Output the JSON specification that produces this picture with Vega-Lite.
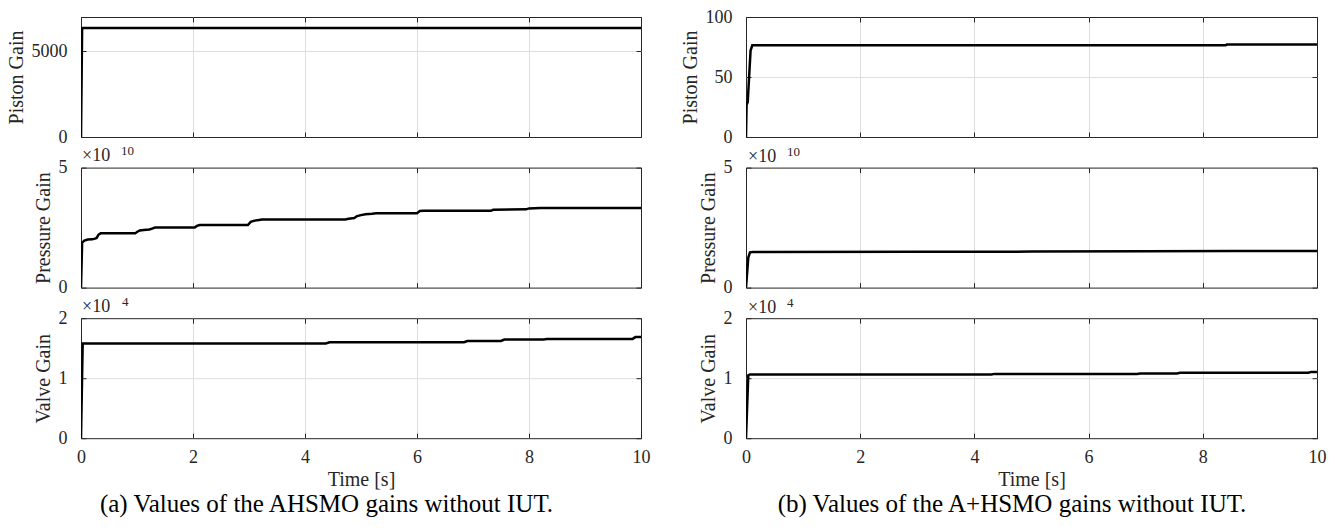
{
  "$schema": "https://vega.github.io/schema/vega-lite/v6.json",
  "padding": {"left": 5, "top": 7, "right": 5, "bottom": 3},
  "background": "white",
  "config": {
    "font": "'Liberation Serif', 'Times New Roman', serif",
    "view": {"stroke": "#262626", "strokeWidth": 1},
    "text": {"font": "'Liberation Serif', 'Times New Roman', serif"},
    "axis": {
      "labelFont": "'Liberation Serif', 'Times New Roman', serif", "labelFontSize": 18, "labelColor": "#262626",
      "titleFont": "'Liberation Serif', 'Times New Roman', serif", "titleFontSize": 20, "titleFontWeight": "normal", "titleColor": "#262626",
      "gridColor": "#dedede", "gridWidth": 1, "format": "d",
      "tickColor": "#262626", "tickSize": -5, "tickWidth": 1,
      "domain": false, "labelFlush": false, "labelOverlap": false
    },
    "axisX": {"labelPadding": 15, "titlePadding": 3},
    "axisY": {"labelPadding": 19, "titlePadding": 5},
    "title": {"font": "'Liberation Serif', 'Times New Roman', serif", "fontSize": 25, "fontWeight": "normal", "color": "black", "orient": "bottom", "anchor": "middle", "frame": "bounds", "offset": 3}
  },
  "datasets": {
    "lp": [{"t": 0, "v": 0}, {"t": 0.02, "v": 6360}, {"t": 10, "v": 6360}],
    "lpr": [
      {"t": 0, "v": 0}, {"t": 0.02, "v": 1.87}, {"t": 0.06, "v": 1.96}, {"t": 0.12, "v": 2.0}, {"t": 0.2, "v": 2.01},
      {"t": 0.25, "v": 2.04}, {"t": 0.28, "v": 2.07}, {"t": 0.31, "v": 2.2}, {"t": 0.35, "v": 2.26}, {"t": 0.97, "v": 2.26},
      {"t": 1.0, "v": 2.32}, {"t": 1.05, "v": 2.38}, {"t": 1.12, "v": 2.4}, {"t": 1.22, "v": 2.42}, {"t": 1.27, "v": 2.46},
      {"t": 1.32, "v": 2.5}, {"t": 2.03, "v": 2.5}, {"t": 2.07, "v": 2.57}, {"t": 2.12, "v": 2.61}, {"t": 2.98, "v": 2.61},
      {"t": 3.03, "v": 2.74}, {"t": 3.1, "v": 2.79}, {"t": 3.18, "v": 2.82}, {"t": 3.23, "v": 2.84}, {"t": 4.72, "v": 2.84},
      {"t": 4.78, "v": 2.87}, {"t": 4.88, "v": 2.9}, {"t": 4.93, "v": 2.98}, {"t": 5.0, "v": 3.02}, {"t": 5.08, "v": 3.06},
      {"t": 5.2, "v": 3.08}, {"t": 5.27, "v": 3.1}, {"t": 6.0, "v": 3.1}, {"t": 6.05, "v": 3.19}, {"t": 6.12, "v": 3.2},
      {"t": 7.32, "v": 3.2}, {"t": 7.36, "v": 3.24}, {"t": 7.95, "v": 3.26}, {"t": 8.0, "v": 3.3}, {"t": 8.1, "v": 3.31},
      {"t": 8.2, "v": 3.32}, {"t": 10, "v": 3.32}
    ],
    "lv": [
      {"t": 0, "v": 0}, {"t": 0.03, "v": 1.58}, {"t": 4.37, "v": 1.58}, {"t": 4.44, "v": 1.6}, {"t": 6.84, "v": 1.6},
      {"t": 6.9, "v": 1.62}, {"t": 7.5, "v": 1.62}, {"t": 7.56, "v": 1.645}, {"t": 8.26, "v": 1.645}, {"t": 8.32, "v": 1.655},
      {"t": 9.85, "v": 1.655}, {"t": 9.9, "v": 1.685}, {"t": 10, "v": 1.685}
    ],
    "rp": [
      {"t": 0, "v": 0}, {"t": 0.01, "v": 27}, {"t": 0.03, "v": 29}, {"t": 0.08, "v": 72}, {"t": 0.11, "v": 76.4},
      {"t": 8.4, "v": 76.4}, {"t": 8.42, "v": 77}, {"t": 10, "v": 77}
    ],
    "rpr": [
      {"t": 0, "v": 0}, {"t": 0.04, "v": 1.25}, {"t": 0.07, "v": 1.47}, {"t": 0.12, "v": 1.48}, {"t": 3, "v": 1.49},
      {"t": 5, "v": 1.5}, {"t": 7, "v": 1.51}, {"t": 8.5, "v": 1.52}, {"t": 10, "v": 1.53}
    ],
    "rv": [
      {"t": 0, "v": 0}, {"t": 0.04, "v": 1.05}, {"t": 0.07, "v": 1.063}, {"t": 4.3, "v": 1.063}, {"t": 4.35, "v": 1.072},
      {"t": 6.85, "v": 1.072}, {"t": 6.9, "v": 1.08}, {"t": 7.55, "v": 1.08}, {"t": 7.6, "v": 1.09}, {"t": 9.85, "v": 1.09},
      {"t": 9.9, "v": 1.105}, {"t": 10, "v": 1.105}
    ]
  },
  "columns": 2,
  "bounds": "flush",
  "spacing": {"row": 30.6, "column": 105},
  "concat": [
    {
      "width": 560, "height": 120,
      "layer": [
        {"data": {"name": "lp"}, "mark": {"type": "line", "color": "black", "strokeWidth": 2.5, "clip": true},
         "encoding": {
           "x": {"field": "t", "type": "quantitative", "scale": {"domain": [0, 10], "nice": false, "zero": false},
                 "axis": {"orient": "bottom", "values": [0, 2, 4, 6, 8, 10], "labels": false, "title": null,
                          "gridOpacity": {"condition": {"test": "datum.value <= 0 || datum.value >= 10", "value": 0}, "value": 1}}},
           "y": {"field": "v", "type": "quantitative", "scale": {"domain": [0, 7000], "nice": false},
                 "axis": {"orient": "left", "values": [0, 5000], "title": "Piston Gain",
                          "gridOpacity": {"condition": {"test": "datum.value <= 0 || datum.value >= 7000", "value": 0}, "value": 1}}}
         }},
        {"data": {"values": [{}]}, "mark": {"type": "point", "opacity": 0},
         "encoding": {
           "x": {"datum": 0, "type": "quantitative", "axis": {"orient": "top", "values": [0, 2, 4, 6, 8, 10], "labels": false, "grid": false, "title": null}},
           "y": {"datum": 0, "type": "quantitative", "axis": {"orient": "right", "values": [0, 5000], "labels": false, "grid": false, "title": null}}
         }}
      ],
      "resolve": {"axis": {"x": "independent", "y": "independent"}}
    },
    {
      "width": 571, "height": 120,
      "layer": [
        {"data": {"name": "rp"}, "mark": {"type": "line", "color": "black", "strokeWidth": 2.5, "clip": true},
         "encoding": {
           "x": {"field": "t", "type": "quantitative", "scale": {"domain": [0, 10], "nice": false, "zero": false},
                 "axis": {"orient": "bottom", "values": [0, 2, 4, 6, 8, 10], "labels": false, "title": null,
                          "gridOpacity": {"condition": {"test": "datum.value <= 0 || datum.value >= 10", "value": 0}, "value": 1}}},
           "y": {"field": "v", "type": "quantitative", "scale": {"domain": [0, 100], "nice": false},
                 "axis": {"orient": "left", "values": [0, 50, 100], "title": "Piston Gain",
                          "gridOpacity": {"condition": {"test": "datum.value <= 0 || datum.value >= 100", "value": 0}, "value": 1}}}
         }},
        {"data": {"values": [{}]}, "mark": {"type": "point", "opacity": 0},
         "encoding": {
           "x": {"datum": 0, "type": "quantitative", "axis": {"orient": "top", "values": [0, 2, 4, 6, 8, 10], "labels": false, "grid": false, "title": null}},
           "y": {"datum": 0, "type": "quantitative", "axis": {"orient": "right", "values": [0, 50, 100], "labels": false, "grid": false, "title": null}}
         }}
      ],
      "resolve": {"axis": {"x": "independent", "y": "independent"}}
    },
    {
      "width": 560, "height": 120,
      "layer": [
        {"data": {"name": "lpr"}, "mark": {"type": "line", "color": "black", "strokeWidth": 2.5, "clip": true},
         "encoding": {
           "x": {"field": "t", "type": "quantitative", "scale": {"domain": [0, 10], "nice": false, "zero": false},
                 "axis": {"orient": "bottom", "values": [0, 2, 4, 6, 8, 10], "labels": false, "title": null,
                          "gridOpacity": {"condition": {"test": "datum.value <= 0 || datum.value >= 10", "value": 0}, "value": 1}}},
           "y": {"field": "v", "type": "quantitative", "scale": {"domain": [0, 5], "nice": false},
                 "axis": {"orient": "left", "values": [0, 5], "title": "Pressure Gain",
                          "gridOpacity": {"condition": {"test": "datum.value <= 0 || datum.value >= 5", "value": 0}, "value": 1}}}
         }},
        {"data": {"values": [{}]}, "mark": {"type": "point", "opacity": 0},
         "encoding": {
           "x": {"datum": 0, "type": "quantitative", "axis": {"orient": "top", "values": [0, 2, 4, 6, 8, 10], "labels": false, "grid": false, "title": null}},
           "y": {"datum": 0, "type": "quantitative", "axis": {"orient": "right", "values": [0, 5], "labels": false, "grid": false, "title": null}}
         }},
        {"data": {"values": [{}]}, "mark": {"type": "text", "text": "×10", "align": "left", "baseline": "alphabetic", "dx": 1, "dy": -7, "fontSize": 18, "color": "#262626"},
         "encoding": {"x": {"datum": 0, "type": "quantitative", "axis": null}, "y": {"datum": 5, "type": "quantitative", "axis": null}}},
        {"data": {"values": [{}]}, "mark": {"type": "text", "text": "10", "align": "left", "baseline": "alphabetic", "dx": 40, "dy": -13, "fontSize": 13, "color": "#262626"},
         "encoding": {"x": {"datum": 0, "type": "quantitative", "axis": null}, "y": {"datum": 5, "type": "quantitative", "axis": null}}}
      ],
      "resolve": {"axis": {"x": "independent", "y": "independent"}}
    },
    {
      "width": 571, "height": 120,
      "layer": [
        {"data": {"name": "rpr"}, "mark": {"type": "line", "color": "black", "strokeWidth": 2.5, "clip": true},
         "encoding": {
           "x": {"field": "t", "type": "quantitative", "scale": {"domain": [0, 10], "nice": false, "zero": false},
                 "axis": {"orient": "bottom", "values": [0, 2, 4, 6, 8, 10], "labels": false, "title": null,
                          "gridOpacity": {"condition": {"test": "datum.value <= 0 || datum.value >= 10", "value": 0}, "value": 1}}},
           "y": {"field": "v", "type": "quantitative", "scale": {"domain": [0, 5], "nice": false},
                 "axis": {"orient": "left", "values": [0, 5], "title": "Pressure Gain",
                          "gridOpacity": {"condition": {"test": "datum.value <= 0 || datum.value >= 5", "value": 0}, "value": 1}}}
         }},
        {"data": {"values": [{}]}, "mark": {"type": "point", "opacity": 0},
         "encoding": {
           "x": {"datum": 0, "type": "quantitative", "axis": {"orient": "top", "values": [0, 2, 4, 6, 8, 10], "labels": false, "grid": false, "title": null}},
           "y": {"datum": 0, "type": "quantitative", "axis": {"orient": "right", "values": [0, 5], "labels": false, "grid": false, "title": null}}
         }},
        {"data": {"values": [{}]}, "mark": {"type": "text", "text": "×10", "align": "left", "baseline": "alphabetic", "dx": 2, "dy": -6, "fontSize": 18, "color": "#262626"},
         "encoding": {"x": {"datum": 0, "type": "quantitative", "axis": null}, "y": {"datum": 5, "type": "quantitative", "axis": null}}},
        {"data": {"values": [{}]}, "mark": {"type": "text", "text": "10", "align": "left", "baseline": "alphabetic", "dx": 41, "dy": -12, "fontSize": 13, "color": "#262626"},
         "encoding": {"x": {"datum": 0, "type": "quantitative", "axis": null}, "y": {"datum": 5, "type": "quantitative", "axis": null}}}
      ],
      "resolve": {"axis": {"x": "independent", "y": "independent"}}
    },
    {
      "width": 560, "height": 120,
      "title": {"text": "(a) Values of the AHSMO gains without IUT.", "dx": -15},
      "layer": [
        {"data": {"name": "lv"}, "mark": {"type": "line", "color": "black", "strokeWidth": 2.5, "clip": true},
         "encoding": {
           "x": {"field": "t", "type": "quantitative", "scale": {"domain": [0, 10], "nice": false, "zero": false},
                 "axis": {"orient": "bottom", "values": [0, 2, 4, 6, 8, 10], "title": "Time [s]",
                          "gridOpacity": {"condition": {"test": "datum.value <= 0 || datum.value >= 10", "value": 0}, "value": 1}}},
           "y": {"field": "v", "type": "quantitative", "scale": {"domain": [0, 2], "nice": false},
                 "axis": {"orient": "left", "values": [0, 1, 2], "title": "Valve Gain",
                          "gridOpacity": {"condition": {"test": "datum.value <= 0 || datum.value >= 2", "value": 0}, "value": 1}}}
         }},
        {"data": {"values": [{}]}, "mark": {"type": "point", "opacity": 0},
         "encoding": {
           "x": {"datum": 0, "type": "quantitative", "axis": {"orient": "top", "values": [0, 2, 4, 6, 8, 10], "labels": false, "grid": false, "title": null}},
           "y": {"datum": 0, "type": "quantitative", "axis": {"orient": "right", "values": [0, 1, 2], "labels": false, "grid": false, "title": null}}
         }},
        {"data": {"values": [{}]}, "mark": {"type": "text", "text": "×10", "align": "left", "baseline": "alphabetic", "dx": 1, "dy": -6, "fontSize": 18, "color": "#262626"},
         "encoding": {"x": {"datum": 0, "type": "quantitative", "axis": null}, "y": {"datum": 2, "type": "quantitative", "axis": null}}},
        {"data": {"values": [{}]}, "mark": {"type": "text", "text": "4", "align": "left", "baseline": "alphabetic", "dx": 41, "dy": -12, "fontSize": 13, "color": "#262626"},
         "encoding": {"x": {"datum": 0, "type": "quantitative", "axis": null}, "y": {"datum": 2, "type": "quantitative", "axis": null}}}
      ],
      "resolve": {"axis": {"x": "independent", "y": "independent"}}
    },
    {
      "width": 571, "height": 120,
      "title": {"text": "(b) Values of the A+HSMO gains without IUT."},
      "layer": [
        {"data": {"name": "rv"}, "mark": {"type": "line", "color": "black", "strokeWidth": 2.5, "clip": true},
         "encoding": {
           "x": {"field": "t", "type": "quantitative", "scale": {"domain": [0, 10], "nice": false, "zero": false},
                 "axis": {"orient": "bottom", "values": [0, 2, 4, 6, 8, 10], "title": "Time [s]",
                          "gridOpacity": {"condition": {"test": "datum.value <= 0 || datum.value >= 10", "value": 0}, "value": 1}}},
           "y": {"field": "v", "type": "quantitative", "scale": {"domain": [0, 2], "nice": false},
                 "axis": {"orient": "left", "values": [0, 1, 2], "title": "Valve Gain",
                          "gridOpacity": {"condition": {"test": "datum.value <= 0 || datum.value >= 2", "value": 0}, "value": 1}}}
         }},
        {"data": {"values": [{}]}, "mark": {"type": "point", "opacity": 0},
         "encoding": {
           "x": {"datum": 0, "type": "quantitative", "axis": {"orient": "top", "values": [0, 2, 4, 6, 8, 10], "labels": false, "grid": false, "title": null}},
           "y": {"datum": 0, "type": "quantitative", "axis": {"orient": "right", "values": [0, 1, 2], "labels": false, "grid": false, "title": null}}
         }},
        {"data": {"values": [{}]}, "mark": {"type": "text", "text": "×10", "align": "left", "baseline": "alphabetic", "dx": 2, "dy": -5, "fontSize": 18, "color": "#262626"},
         "encoding": {"x": {"datum": 0, "type": "quantitative", "axis": null}, "y": {"datum": 2, "type": "quantitative", "axis": null}}},
        {"data": {"values": [{}]}, "mark": {"type": "text", "text": "4", "align": "left", "baseline": "alphabetic", "dx": 41, "dy": -11, "fontSize": 13, "color": "#262626"},
         "encoding": {"x": {"datum": 0, "type": "quantitative", "axis": null}, "y": {"datum": 2, "type": "quantitative", "axis": null}}}
      ],
      "resolve": {"axis": {"x": "independent", "y": "independent"}}
    }
  ]
}
